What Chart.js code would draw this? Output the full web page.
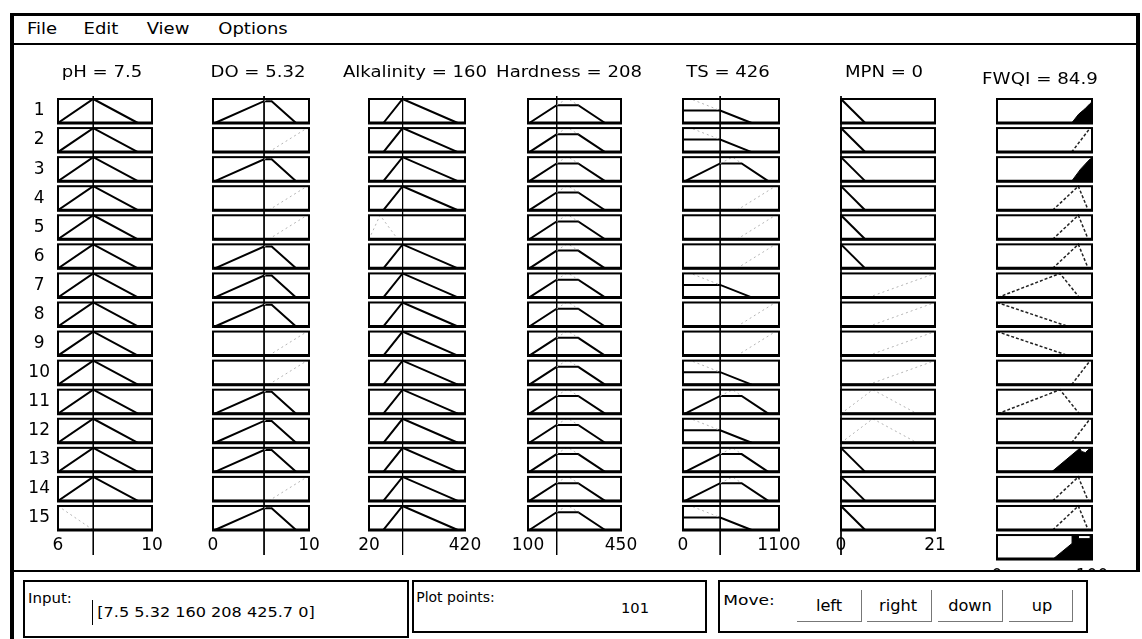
<!DOCTYPE html>
<html>
<head>
<meta charset="utf-8">
<title>Rule viewer</title>
<script src="https://cdn.jsdelivr.net/npm/chart.js@4.4.1/dist/chart.umd.min.js"></script>
<style>
  html, body { margin: 0; padding: 0; background: #fff; }
  body { position: relative; width: 1142px; height: 639px; overflow: hidden; font-family: "DejaVu Sans", sans-serif; color: #000; }
  canvas { position: absolute; }
  .ln { position: absolute; background: #000; }
  .tx { position: absolute; white-space: nowrap; line-height: 1; transform: translate(-50%, -50%) scaleX(var(--sx, 1.15)); }
  #panel { position: absolute; left: 14px; top: 572px; width: 1128px; height: 67px; background: #fff; }
  .box { position: absolute; border: 2px solid #000; box-sizing: border-box; }
  .btn { position: absolute; border-right: 1px solid #777; border-bottom: 1px solid #777; box-sizing: border-box; }
</style>
</head>
<body>
<div id="panel"></div>
<div id="texts"></div>
<script>
const inputNames = ['pH', 'DO', 'Alkalinity', 'Hardness', 'TS', 'MPN'];
const inputValues = [7.5, 5.32, 160, 208, 426, 0];
const inputRanges = [[6, 10], [0, 10], [20, 420], [100, 450], [0, 1100], [0, 21]];
const outputName = 'FWQI';
const outputValue = 84.9;
const outputRange = [0, 100];
const ruleNumbers = [1, 2, 3, 4, 5, 6, 7, 8, 9, 10, 11, 12, 13, 14, 15];
const inputVector = '[7.5 5.32 160 208 425.7 0]';
const plotPoints = 101;
const menuItems = ['File', 'Edit', 'View', 'Options'];
const moveButtons = ['left', 'right', 'down', 'up'];

// membership shapes as [x, degree]
// solid = part under the fired degree, faint = rest of the MF
const phShapes = {
  mid: { solid: [[6, 0], [7.5, 1], [9.4, 0]] },
  low: { faint: [[6, 1], [7.5, 0]] }
};
const doShapes = {
  mid: { solid: [[0.2, 0], [5.32, 0.91], [6.11, 0.91], [8.65, 0]], faint: [[5.32, 0.91], [5.85, 1], [6.11, 0.91]] },
  high: { faint: [[5.8, 0], [9.8, 1], [10, 1]] }
};
const alkShapes = {
  mid: { solid: [[80, 0], [160, 1], [390, 0]] },
  low: { faint: [[20, 0], [66, 1], [140, 0]] }
};
const hardShapes = {
  mid: { solid: [[105, 0], [208, 0.74], [289, 0.74], [390, 0]], faint: [[208, 0.74], [244, 1], [253, 1], [289, 0.74]] }
};
const tsShapes = {
  low: { solid: [[0, 0.52], [426, 0.52], [787, 0]], faint: [[0, 1], [90, 1], [426, 0.52]] },
  mid: { solid: [[23, 0], [426, 0.74], [672, 0.74], [977, 0]], faint: [[426, 0.74], [568, 1], [672, 0.74]] },
  high: { faint: [[618, 0], [1060, 1], [1100, 1]] }
};
const mpnShapes = {
  low: { solid: [[0, 1], [5.4, 0]] },
  mid: { faint: [[0, 0], [7.1, 1], [17, 0]] },
  high: { faint: [[6.1, 0], [21, 1]] }
};
const fwqiShapes = {
  exA: { fill: [[78.6, 0], [86, 0.37], [92.6, 0.59], [98, 0.81], [100, 0.88], [100, 0]], white: [[87, 0.5], [98, 0.9]] },
  exB: { fill: [[78.6, 0], [88, 0.5], [95, 0.8], [98, 0.92], [100, 0.95], [100, 0]] },
  ex: { dash: [[78.6, 0], [98, 1]] },
  good: { dash: [[58.6, 0], [85.6, 1], [96, 0]] },
  mod: { dash: [[1, 0], [66.3, 1], [86.6, 0]] },
  poor: { dash: [[0, 1], [75, 0]] },
  goodFill: { fill: [[57.5, 0], [85.6, 0.93], [87, 0.98], [89, 0.85], [93, 0.8], [97, 0.95], [100, 0.95], [100, 0]] },
  sum: { fill: [[59, 0], [79, 0.65], [79, 1], [85.6, 1], [85.6, 0.85], [98, 0.85], [98, 1], [100, 1], [100, 0]] }
};

// which MF each rule uses, rows 1..15 (output has the aggregate as row 16)
const phRule = ['mid', 'mid', 'mid', 'mid', 'mid', 'mid', 'mid', 'mid', 'mid', 'mid', 'mid', 'mid', 'mid', 'mid', 'low'];
const doRule = ['mid', 'high', 'mid', 'high', 'high', 'mid', 'mid', 'mid', 'high', 'high', 'mid', 'mid', 'mid', 'high', 'mid'];
const alkRule = ['mid', 'mid', 'mid', 'mid', 'low', 'mid', 'mid', 'mid', 'mid', 'mid', 'mid', 'mid', 'mid', 'mid', 'mid'];
const hardRule = ['mid', 'mid', 'mid', 'mid', 'mid', 'mid', 'mid', 'mid', 'mid', 'mid', 'mid', 'mid', 'mid', 'mid', 'mid'];
const tsRule = ['low', 'low', 'mid', 'high', 'high', 'high', 'low', 'high', 'high', 'low', 'mid', 'low', 'mid', 'mid', 'low'];
const mpnRule = ['low', 'low', 'low', 'low', 'low', 'low', 'high', 'high', 'high', 'high', 'mid', 'mid', 'low', 'low', 'low'];
const fwqiRule = ['exA', 'ex', 'exB', 'good', 'good', 'good', 'mod', 'poor', 'poor', 'ex', 'mod', 'ex', 'goodFill', 'good', 'good', 'sum'];

// layout
const colBoxes = [[58, 152], [213, 309], [369, 465], [528, 621], [683, 779], [841, 935], [997, 1092]];
const PX_ROW = 29.07;
const Y_ZERO = 559.05;
const H = 24 / PX_ROW;
const CHART_TOP = 94, PAD_TOP = 20, AXIS_H = 20, SIDE = 25, LABEL_W = 36;
const LINE_TOP = (Y_ZERO - 96) / PX_ROW, LINE_BOTTOM = (Y_ZERO - 555) / PX_ROW;

Chart.defaults.font.family = 'DejaVu Sans';
Chart.defaults.color = '#000';

const boxPlugin = {
  id: 'ruleBoxes',
  afterDatasetsDraw(chart, args, opts) {
    const { ctx, scales: { x, y } } = chart;
    const x0 = x.getPixelForValue(x.min), x1 = x.getPixelForValue(x.max);
    ctx.save();
    ctx.strokeStyle = '#000';
    opts.rows.forEach(r => {
      const yb = y.getPixelForValue(16 - r), yt = y.getPixelForValue(16 - r + H);
      ctx.lineWidth = 2;
      ctx.strokeRect(x0, yt, x1 - x0, yb - yt);
      ctx.lineWidth = 3;
      ctx.beginPath();
      ctx.moveTo(x0 - 1, yb);
      ctx.lineTo(x1 + 1, yb);
      ctx.stroke();
    });
    ctx.restore();
  }
};

function rowDatasets(shape, r) {
  const yb = 16 - r;
  const pts = list => list.map(([x, m]) => ({ x: x, y: yb + m * H }));
  const out = [];
  if (shape.fill) out.push({ data: pts(shape.fill), borderColor: '#000', borderWidth: 1, backgroundColor: '#000', fill: { value: yb } });
  if (shape.faint) out.push({ data: pts(shape.faint), borderColor: '#b5b5b5', borderWidth: 1, borderDash: [2, 3] });
  if (shape.solid) out.push({ data: pts(shape.solid), borderColor: '#000', borderWidth: 2 });
  if (shape.dash) out.push({ data: pts(shape.dash), borderColor: '#222', borderWidth: 1.5, borderDash: [3, 2] });
  if (shape.white) out.push({ data: pts(shape.white), borderColor: '#fff', borderWidth: 1.5, borderDash: [3, 3] });
  return out;
}

function buildColumn(i, range, rule, shapes, value) {
  const [L, R] = colBoxes[i];
  const withLabels = i === 0;
  const isOutput = value === null;
  const bottomPx = isOutput ? 568 : 537;
  const extra = withLabels ? LABEL_W : 0;
  const canvas = document.createElement('canvas');
  canvas.width = R - L + 2 * SIDE + extra;
  canvas.height = PAD_TOP + (bottomPx - CHART_TOP) + AXIS_H;
  canvas.style.left = (L - SIDE - extra) + 'px';
  canvas.style.top = (CHART_TOP - PAD_TOP) + 'px';
  document.body.insertBefore(canvas, document.getElementById('panel'));

  const rows = rule.map((_, k) => k + 1);
  const datasets = [];
  rule.forEach((name, k) => datasets.push(...rowDatasets(shapes[name], k + 1)));
  if (!isOutput) {
    datasets.push({ data: [{ x: value, y: LINE_TOP }, { x: value, y: LINE_BOTTOM }], borderColor: '#000', borderWidth: 1, clip: false });
  }

  const yAxis = {
    type: 'linear', min: (Y_ZERO - bottomPx) / PX_ROW, max: (Y_ZERO - CHART_TOP) / PX_ROW,
    display: withLabels, position: 'left',
    grid: { display: false, drawTicks: false }, border: { display: false }
  };
  if (withLabels) {
    yAxis.afterBuildTicks = s => { s.ticks = ruleNumbers.map(r => ({ value: 16 - r + H / 2 })); };
    yAxis.afterFit = s => { s.width = LABEL_W; };
    yAxis.ticks = { autoSkip: false, padding: 8, crossAlign: 'center', font: { size: 17, lineHeight: 1 }, callback: (v, k) => String(ruleNumbers[k]) };
  }

  new Chart(canvas, {
    type: 'line',
    data: { datasets: datasets },
    options: {
      responsive: false,
      animation: false,
      events: [],
      layout: { padding: { left: SIDE, right: SIDE, top: PAD_TOP, bottom: 0 } },
      elements: { point: { radius: 0 }, line: { tension: 0 } },
      plugins: { legend: { display: false }, tooltip: { enabled: false }, ruleBoxes: { rows: rows } },
      scales: {
        x: {
          type: 'linear', min: range[0], max: range[1],
          grid: { display: false, drawTicks: false }, border: { display: false },
          afterBuildTicks: s => { s.ticks = [{ value: range[0] }, { value: range[1] }]; },
          afterFit: s => { s.height = AXIS_H; },
          ticks: { padding: 0, maxRotation: 0, autoSkip: false, font: { size: 17, lineHeight: 1 }, callback: v => String(v) }
        },
        y: yAxis
      }
    },
    plugins: [boxPlugin]
  });
}

buildColumn(0, inputRanges[0], phRule, phShapes, inputValues[0]);
buildColumn(1, inputRanges[1], doRule, doShapes, inputValues[1]);
buildColumn(2, inputRanges[2], alkRule, alkShapes, inputValues[2]);
buildColumn(3, inputRanges[3], hardRule, hardShapes, inputValues[3]);
buildColumn(4, inputRanges[4], tsRule, tsShapes, inputValues[4]);
buildColumn(5, inputRanges[5], mpnRule, mpnShapes, inputValues[5]);
buildColumn(6, outputRange, fwqiRule, fwqiShapes, null);

// window frame, menu and bottom panel
const host = document.getElementById('texts');
function line(l, t, w, h, color) {
  const d = document.createElement('div');
  d.className = 'ln';
  d.style.cssText = `left:${l}px;top:${t}px;width:${w}px;height:${h}px;` + (color ? `background:${color};` : '');
  host.appendChild(d);
}
function text(str, cx, cy, size, sx) {
  const d = document.createElement('div');
  d.className = 'tx';
  d.textContent = str;
  d.style.cssText = `left:${cx}px;top:${cy}px;font-size:${size}px;--sx:${sx};`;
  host.appendChild(d);
}
function rect(cls, l, t, w, h) {
  const d = document.createElement('div');
  d.className = cls;
  d.style.cssText = `left:${l}px;top:${t}px;width:${w}px;height:${h}px;`;
  host.appendChild(d);
}

line(10, 13, 1130, 3);
line(10, 13, 4, 626);
line(1136, 13, 4, 559);
line(10, 43, 1130, 2);
line(10, 570, 1130, 2);

const menuX = [42, 100.5, 167.5, 253];
menuItems.forEach((m, k) => text(m, menuX[k], 28.5, 15, 1.2));

const headX = [102, 257.5, 414.5, 569, 727.5, 884];
inputNames.forEach((n, k) => text(`${n} = ${inputValues[k]}`, headX[k], 71.5, 16, 1.13));
text(`${outputName} = ${outputValue}`, 1040, 78.7, 16, 1.14);

rect('box', 23, 580, 386, 58);
rect('box', 412, 580, 295, 53);
rect('box', 718, 580, 370, 53);
text('Input:', 49.7, 598, 14, 1.07);
text(inputVector, 206, 611.7, 14, 1.15);
line(92, 600, 1, 25);
text('Plot points:', 455.5, 597, 14, 1.0);
text(String(plotPoints), 635, 607.5, 14, 1.05);
text('Move:', 748.5, 600, 14, 1.22);

const btnX = [[797, 862], [867, 932], [938, 1003], [1009, 1073]];
const btnLabelX = [828.5, 898, 969.5, 1042];
moveButtons.forEach((b, k) => {
  rect('btn', btnX[k][0], 590, btnX[k][1] - btnX[k][0], 32);
  text(b, btnLabelX[k], 606, 15, 1.08);
});
</script>
</body>
</html>
